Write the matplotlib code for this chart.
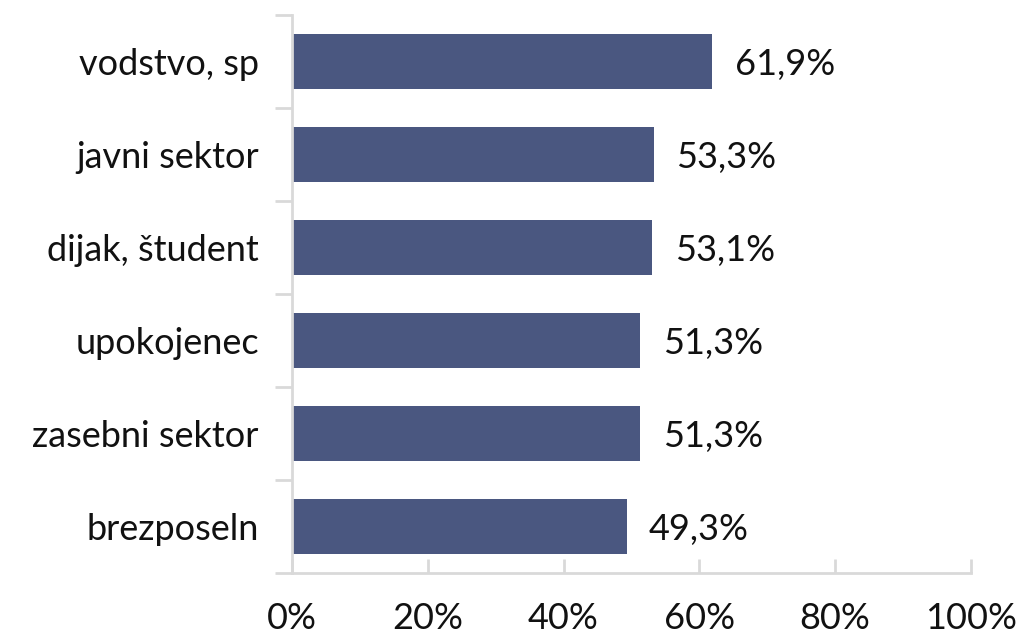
import matplotlib
matplotlib.use("Agg")
import matplotlib.pyplot as plt
import numpy as np

categories = ["vodstvo, sp", "javni sektor", "dijak, študent",
              "upokojenec", "zasebni sektor", "brezposeln"]
values = [61.9, 53.3, 53.1, 51.3, 51.3, 49.3]
value_labels = ["61,9%", "53,3%", "53,1%", "51,3%", "51,3%", "49,3%"]
xticks = [0, 20, 40, 60, 80, 100]
xtick_labels = ["0%", "20%", "40%", "60%", "80%", "100%"]

plt.rcParams["font.family"] = ["Lato", "DejaVu Sans"]

fig = plt.figure(figsize=(10.25, 6.38), dpi=100)
ax = fig.add_axes([0.285, 0.102, 0.662, 0.874])

y = np.arange(len(categories))[::-1]
ax.barh(y, values, height=0.59, color="#4A5780", zorder=2)
for yi, v, lab in zip(y, values, value_labels):
    ax.text(v + 3.3, yi, lab, va="center_baseline", ha="left", fontsize=26,
            color="#111111")

ax.set_xlim(0, 100)
ax.set_ylim(-0.5, len(categories) - 0.5)
ax.set_xticks(xticks)
ax.set_xticklabels(xtick_labels, fontsize=26)
ax.set_yticks(y)
ax.set_yticklabels(categories, fontsize=26, va="center_baseline")
ax.set_yticks(np.arange(-0.5, len(categories)), minor=True)

for side in ["top", "right"]:
    ax.spines[side].set_visible(False)
for side in ["left", "bottom"]:
    ax.spines[side].set_color("#D9D9D9")
    ax.spines[side].set_linewidth(2)

ax.tick_params(axis="x", direction="in", length=10, width=2, color="#D9D9D9",
               pad=21, labelcolor="#111111")
ax.tick_params(axis="y", which="major", length=0, pad=24, labelcolor="#111111")
ax.tick_params(axis="y", which="minor", direction="out", length=12, width=2,
               color="#D9D9D9")

fig.savefig("out.png", dpi=100)
